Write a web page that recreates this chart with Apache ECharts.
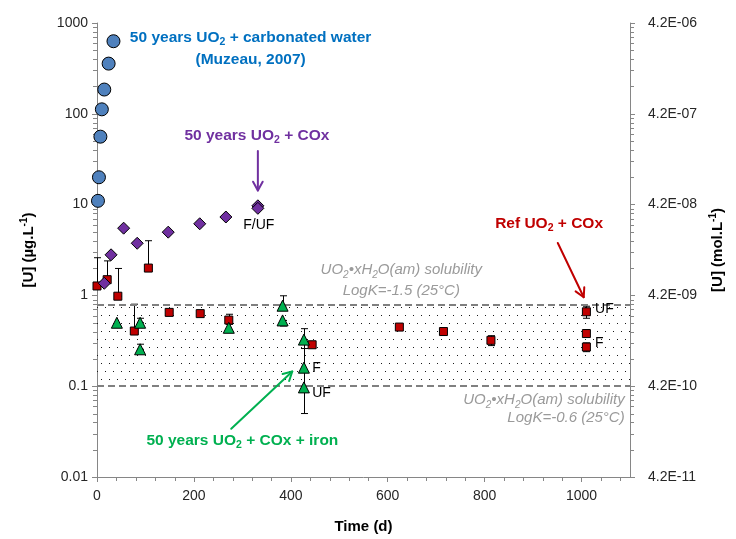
<!DOCTYPE html>
<html>
<head>
<meta charset="utf-8">
<script src="https://cdn.jsdelivr.net/npm/echarts@6/dist/echarts.min.js"></script>
<style>
  html, body { margin: 0; padding: 0; background: #fff; }
  #chart { width: 736px; height: 539px; }
</style>
</head>
<body>
<div id="chart"></div>
<script>
// Dissolved uranium vs. leaching time, [time (d), U (µg/L)]
const muzeauPts = [[2, 11], [4, 20], [7, 56], [10, 112], [15, 185], [24, 357], [34, 630]];
const cox50Pts = [[15, 1.36], [29, 2.8], [55, 5.5], [83, 3.75], [147, 4.97], [212, 6.15], [266, 7.3], [332, 9.7], [332, 9.1]];
const refPts = [[0, 1.27], [21, 1.49], [43, 0.98], [77, 0.405], [106, 2.0], [149, 0.65], [213, 0.63], [272, 0.535],
                [444, 0.286], [624, 0.448], [715, 0.40], [813, 0.32], [1010, 0.66], [1010, 0.38], [1010, 0.27]];
const ironPts = [[41, 0.50], [89, 0.50], [89, 0.255], [272, 0.44], [383, 0.77], [383, 0.53], [427, 0.326], [427, 0.16], [427, 0.097]];

// Error bars, [time, low, high]
const refErr = [[0, 1.27, 2.6], [21, 1.49, 2.4], [43, 0.98, 1.98], [77, 0.405, 0.8], [106, 2.0, 4.0], [272, 0.48, 0.62],
                [444, 0.265, 0.31], [715, 0.37, 0.43], [813, 0.28, 0.36], [1010, 0.56, 0.76], [1010, 0.35, 0.42], [1010, 0.24, 0.30]];
const ironErr = [[89, 0.50, 0.56], [89, 0.255, 0.29], [383, 0.77, 0.99], [383, 0.46, 0.53], [427, 0.05, 0.43], [427, 0.26, 0.326]];

// UO2.xH2O(am) solubility range (µg/L)
const solubilityLow = 0.1;
const solubilityHigh = 0.78;

// Axis tick labels (one per decade, 0.01 .. 1000 µg/L)
const leftTickLabels = ['0.01', '0.1', '1', '10', '100', '1000'];
const rightTickLabels = ['4.2E-11', '4.2E-10', '4.2E-09', '4.2E-08', '4.2E-07', '4.2E-06'];
const xMax = 1100;

const FONT = "'Liberation Sans', Arial, sans-serif";
const AXIS_GREY = '#868686';
const TEXT = '#262626';

// minor tick positions: 2..9 per decade on the log axes, every 40 d on the time axis
const logMinor = [];
for (let e = -2; e < 3; e++) for (let m = 2; m < 10; m++) logMinor.push(m * Math.pow(10, e));
const timeMinor = [];
for (let t = 40; t < xMax; t += 40) if (t % 200 !== 0) timeMinor.push(t);

function decadeIndex(v) { return Math.round(Math.log10(v)) + 2; }

function dotPattern() {
  const c = document.createElement('canvas');
  c.width = 8; c.height = 16;
  const g = c.getContext('2d');
  g.fillStyle = '#1a1a1a';
  g.fillRect(1, 3, 1, 1);
  g.fillRect(5, 11, 1, 1);
  return c;
}

function renderErr(params, api) {
  const x = api.value(0), lo = api.value(1), hi = api.value(2);
  const a = api.coord([x, lo]), b = api.coord([x, hi]);
  const w = 3.5, st = { stroke: '#000', lineWidth: 1 };
  const cx = Math.round(a[0]) + 0.5;
  return { type: 'group', children: [
    { type: 'line', shape: { x1: cx, y1: a[1], x2: cx, y2: b[1] }, style: st },
    { type: 'line', shape: { x1: cx - w, y1: a[1], x2: cx + w, y2: a[1] }, style: st },
    { type: 'line', shape: { x1: cx - w, y1: b[1], x2: cx + w, y2: b[1] }, style: st }
  ] };
}

function tickSeries(data, dir) {
  return {
    type: 'custom', silent: true, clip: false, z: 1,
    data: data,
    renderItem: function (params, api) {
      const p = api.coord([api.value(0), api.value(1)]);
      const len = 4;
      const st = { stroke: AXIS_GREY, lineWidth: 1 };
      if (dir === 'left') { const y = Math.round(p[1]) + 0.5; return { type: 'line', shape: { x1: p[0] - len, y1: y, x2: p[0], y2: y }, style: st }; }
      if (dir === 'right') { const y = Math.round(p[1]) + 0.5; return { type: 'line', shape: { x1: p[0], y1: y, x2: p[0] + len, y2: y }, style: st }; }
      const x = Math.round(p[0]) + 0.5;
      return { type: 'line', shape: { x1: x, y1: p[1], x2: x, y2: p[1] + len }, style: st };
    }
  };
}

function scatter(name, data, symbol, size, color, z) {
  return {
    name: name, type: 'scatter', data: data, symbol: symbol, symbolSize: size, z: z,
    itemStyle: { color: color, borderColor: '#000', borderWidth: 1, opacity: 1 },
    emphasis: { disabled: true }
  };
}

const chart = echarts.init(document.getElementById('chart'));

const axisCommon = {
  axisLine: { show: true, lineStyle: { color: AXIS_GREY, width: 1 } },
  axisTick: { show: true, inside: false, length: 5, lineStyle: { color: AXIS_GREY } },
  splitLine: { show: false }
};

const titleRich = {
  b: { fontSize: 15, fontWeight: 'bold', fontFamily: FONT, color: '#000', lineHeight: 20 },
  sup: { fontSize: 10, fontWeight: 'bold', fontFamily: FONT, color: '#000', lineHeight: 10, verticalAlign: 'top' }
};

chart.setOption({
  animation: false,
  textStyle: { fontFamily: FONT },
  grid: { left: 97, right: 106, top: 23, bottom: 60 },
  xAxis: Object.assign({}, axisCommon, {
    type: 'value', min: 0, max: xMax, interval: 200,
    axisLabel: { color: TEXT, fontSize: 14, margin: 12, showMaxLabel: false, formatter: v => String(v) },
    name: 'Time (d)', nameLocation: 'middle', nameGap: 42,
    nameTextStyle: { fontSize: 15, fontWeight: 'bold', color: '#000' }
  }),
  yAxis: [
    Object.assign({}, axisCommon, {
      type: 'log', logBase: 10, min: 0.01, max: 1000, position: 'left',
      axisLabel: { color: TEXT, fontSize: 14, margin: 9, formatter: v => leftTickLabels[decadeIndex(v)] },
      name: '{b|[U] (µg.L}{sup|-1}{b|)}', nameLocation: 'middle', nameGap: 58, nameRotate: 90,
      nameTextStyle: { rich: titleRich }
    }),
    Object.assign({}, axisCommon, {
      type: 'log', logBase: 10, min: 0.01, max: 1000, position: 'right',
      axisLabel: { color: TEXT, fontSize: 14, margin: 18, formatter: v => rightTickLabels[decadeIndex(v)] },
      name: '{b|[U] (mol.L}{sup|-1}{b|)}', nameLocation: 'middle', nameGap: 75, nameRotate: 90,
      nameTextStyle: { rich: titleRich }
    })
  ],
  series: [
    {
      type: 'line', data: [], silent: true, z: 0,
      markArea: {
        silent: true,
        itemStyle: { color: { image: dotPattern(), repeat: 'repeat' } },
        data: [[{ xAxis: 0, yAxis: solubilityLow }, { xAxis: xMax, yAxis: solubilityHigh }]]
      },
      markLine: {
        silent: true, symbol: 'none', label: { show: false },
        lineStyle: { type: [7, 4], color: '#808080', width: 2 },
        data: [{ yAxis: solubilityHigh }, { yAxis: solubilityLow }]
      }
    },
    tickSeries(logMinor.map(v => [0, v]), 'left'),
    tickSeries(logMinor.map(v => [xMax, v]), 'right'),
    tickSeries(timeMinor.map(t => [t, 0.01]), 'down'),
    { type: 'custom', silent: true, z: 2, data: refErr, renderItem: renderErr, encode: { x: 0, y: [1, 2] } },
    { type: 'custom', silent: true, z: 2, data: ironErr, renderItem: renderErr, encode: { x: 0, y: [1, 2] } },
    scatter('Ref UO2 + COx', refPts, 'rect', 8, '#C00000', 5),
    scatter('50 years UO2 + COx + iron', ironPts, 'triangle', 11, '#00B050', 6),
    scatter('50 years UO2 + COx', cox50Pts, 'diamond', 12, '#7030A0', 7),
    scatter('50 years UO2 + carbonated water', muzeauPts, 'circle', 13, '#4F81BD', 8)
  ]
});

// Annotations, anchored in data coordinates
function px(x, y) { return chart.convertToPixel({ gridIndex: 0 }, [x, y]); }

function noteRich(color) {
  return {
    t: { fontSize: 15.5, fontWeight: 'bold', fontFamily: FONT, fill: color, lineHeight: 20 },
    s: { fontSize: 10.5, fontWeight: 'bold', fontFamily: FONT, fill: color, lineHeight: 11, verticalAlign: 'bottom' }
  };
}
function greyRich() {
  return {
    t: { fontSize: 15, fontStyle: 'italic', fontFamily: FONT, fill: '#9a9a9a', lineHeight: 20 },
    s: { fontSize: 10, fontStyle: 'italic', fontFamily: FONT, fill: '#9a9a9a', lineHeight: 11, verticalAlign: 'bottom' }
  };
}
function richText(x, y, text, rich, align) {
  const p = px(x, y);
  return { type: 'text', x: p[0], y: p[1], z: 20, silent: true,
    style: { text: text, rich: rich, align: align || 'center', verticalAlign: 'middle' } };
}
function plainText(x, y, text, align) {
  const p = px(x, y);
  return { type: 'text', x: p[0], y: p[1], z: 20, silent: true,
    style: { text: text, fontSize: 14, fontFamily: FONT, fill: '#000', align: align || 'center', verticalAlign: 'middle' } };
}
function arrow(from, to, color) {
  const a = px(from[0], from[1]), b = px(to[0], to[1]);
  const ang = Math.atan2(b[1] - a[1], b[0] - a[0]);
  const L = 10, spread = 0.5;
  const h1 = [b[0] - L * Math.cos(ang - spread), b[1] - L * Math.sin(ang - spread)];
  const h2 = [b[0] - L * Math.cos(ang + spread), b[1] - L * Math.sin(ang + spread)];
  const st = { stroke: color, lineWidth: 2, lineCap: 'round', lineJoin: 'round', fill: null };
  return [
    { type: 'line', z: 20, silent: true, shape: { x1: a[0], y1: a[1], x2: b[0], y2: b[1] }, style: st },
    { type: 'polyline', z: 20, silent: true, shape: { points: [h1, b, h2] }, style: st }
  ];
}

const BLUE = '#0070C0', PURPLE = '#7030A0', RED = '#C00000', GREEN = '#00B050';
const graphics = [
  richText(317, 695, '{t|50 years UO}{s|2}{t| + carbonated water}', noteRich(BLUE)),
  richText(317, 395, '{t|(Muzeau, 2007)}', noteRich(BLUE)),
  richText(330, 57, '{t|50 years UO}{s|2}{t| + COx}', noteRich(PURPLE)),
  plainText(334, 6.0, 'F/UF'),
  richText(933, 6.1, '{t|Ref UO}{s|2}{t| + COx}', noteRich(RED)),
  plainText(1028, 0.70, 'UF', 'left'),
  plainText(1028, 0.30, 'F', 'left'),
  richText(628, 1.9, '{t|UO}{s|2}{t|•xH}{s|2}{t|O(am) solubility}', greyRich()),
  richText(628, 1.13, '{t|LogK=-1.5 (25°C)}', greyRich()),
  richText(1089, 0.07, '{t|UO}{s|2}{t|•xH}{s|2}{t|O(am) solubility}', greyRich(), 'right'),
  richText(1089, 0.045, '{t|LogK=-0.6 (25°C)}', greyRich(), 'right'),
  richText(300, 0.025, '{t|50 years UO}{s|2}{t| + COx + iron}', noteRich(GREEN)),
  plainText(444, 0.157, 'F', 'left'),
  plainText(444, 0.083, 'UF', 'left')
].concat(
  arrow([332, 39], [332, 14.3], PURPLE),
  arrow([951, 3.78], [1004.5, 0.955], RED),
  arrow([277, 0.034], [403, 0.145], GREEN)
);

chart.setOption({ graphic: graphics });
</script>
</body>
</html>
